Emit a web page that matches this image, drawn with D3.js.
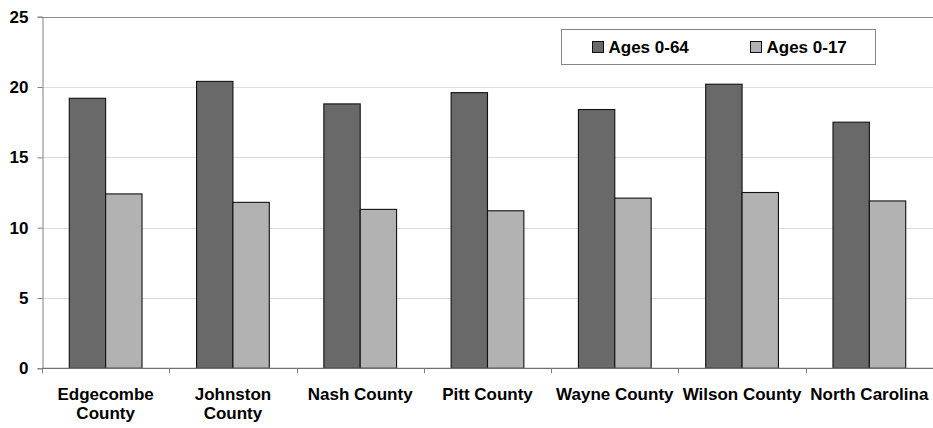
<!DOCTYPE html>
<html>
<head>
<meta charset="utf-8">
<script src="https://cdn.jsdelivr.net/npm/d3@7"></script>
<style>
  html, body { margin: 0; padding: 0; background: #fff; }
  svg { display: block; }
  text { font-family: "Liberation Sans", Arial, sans-serif; font-weight: bold; fill: #000; }
</style>
</head>
<body>
<svg id="chart" width="933" height="428"></svg>
<script>
// Uninsured rates by area (percent)
const categories = ["Edgecombe County", "Johnston County", "Nash County", "Pitt County", "Wayne County", "Wilson County", "North Carolina"];
const categoryLabelLines = [["Edgecombe", "County"], ["Johnston", "County"], ["Nash County"], ["Pitt County"], ["Wayne County"], ["Wilson County"], ["North Carolina"]];
const seriesNames = ["Ages 0-64", "Ages 0-17"];
const ages0to64 = [19.2, 20.4, 18.8, 19.6, 18.4, 20.2, 17.5];
const ages0to17 = [12.4, 11.8, 11.3, 11.2, 12.1, 12.5, 11.9];
const yTicks = [0, 5, 10, 15, 20, 25];

const colors = ["#696969", "#b2b2b2"];
const series = [ages0to64, ages0to17];
const fontSize = "17px";

const svg = d3.select("#chart");
const plotLeft = 42, plotRight = 933, plotTop = 16.7, plotBottom = 368.3;

const x = d3.scaleBand().domain(categories).range([plotLeft, plotRight]).paddingInner(0).paddingOuter(0);
const y = d3.scaleLinear().domain([0, 25]).range([plotBottom, plotTop]);

// gap width 150% between groups of two bars
const barW = x.bandwidth() / 3.5;
const groupOffset = (x.bandwidth() - 2 * barW) / 2;

// horizontal gridlines
svg.append("g")
  .selectAll("line")
  .data(yTicks.filter(d => d > 0))
  .join("line")
  .attr("x1", plotLeft).attr("x2", plotRight)
  .attr("y1", d => Math.round(y(d)) + 0.5).attr("y2", d => Math.round(y(d)) + 0.5)
  .attr("stroke", d => d === 25 ? "#8a8a8a" : "#dcdcdc")
  .attr("stroke-width", d => d === 25 ? 1.2 : 1);

// bars
const groups = svg.append("g")
  .selectAll("g")
  .data(series)
  .join("g")
  .attr("fill", (d, i) => colors[i]);

groups.selectAll("rect")
  .data((vals, si) => vals.map((v, ci) => ({ v, ci, si })))
  .join("rect")
  .attr("x", d => x(categories[d.ci]) + groupOffset + d.si * barW)
  .attr("y", d => y(d.v))
  .attr("width", barW)
  .attr("height", d => y(0) - y(d.v))
  .attr("stroke", "#111")
  .attr("stroke-width", 1.1);

// y axis
const yAxis = svg.append("g")
  .attr("transform", `translate(${plotLeft + 0.5},0)`)
  .call(d3.axisLeft(y).tickValues(yTicks).tickSize(5).tickPadding(9).tickFormat(d3.format("d")));
yAxis.select(".domain").attr("stroke", "#808080");
yAxis.selectAll(".tick line").attr("stroke", "#808080");
yAxis.selectAll(".tick text").style("font-size", fontSize).attr("fill", "#000");

// x axis
const xAxisG = svg.append("g").attr("transform", `translate(0,${plotBottom})`);
xAxisG.append("line")
  .attr("x1", plotLeft).attr("x2", plotRight).attr("y1", 0).attr("y2", 0)
  .attr("stroke", "#707070").attr("stroke-width", 1.2);
const boundaries = categories.map(c => x(c)).concat([plotRight]);
xAxisG.selectAll("line.tk")
  .data(boundaries)
  .join("line")
  .attr("class", "tk")
  .attr("x1", d => Math.round(d) + 0.5).attr("x2", d => Math.round(d) + 0.5)
  .attr("y1", 0).attr("y2", 5)
  .attr("stroke", "#808080");

const labels = xAxisG.selectAll("text.cat")
  .data(categories)
  .join("text")
  .attr("class", "cat")
  .attr("text-anchor", "middle")
  .style("font-size", fontSize)
  .attr("x", d => x(d) + x.bandwidth() / 2);
labels.selectAll("tspan")
  .data((d, i) => categoryLabelLines[i].map((t, j) => ({ t, j, cx: x(d) + x.bandwidth() / 2 })))
  .join("tspan")
  .attr("x", d => d.cx)
  .attr("y", d => 31.5 + d.j * 19.5)
  .text(d => d.t);

// legend
const legend = svg.append("g");
legend.append("rect")
  .attr("x", 561.5).attr("y", 29.5).attr("width", 314).attr("height", 35)
  .attr("fill", "#fff").attr("stroke", "#858585").attr("stroke-width", 1);
const legendX = [592.5, 750.5];
const items = legend.selectAll("g.item")
  .data(seriesNames)
  .join("g")
  .attr("class", "item")
  .attr("transform", (d, i) => `translate(${legendX[i]},41.5)`);
items.append("rect")
  .attr("width", 11).attr("height", 11)
  .attr("fill", (d, i) => colors[i])
  .attr("stroke", "#111").attr("stroke-width", 1);
items.append("text")
  .attr("x", 16).attr("y", 11.5)
  .style("font-size", fontSize)
  .text(d => d);
</script>
</body>
</html>
